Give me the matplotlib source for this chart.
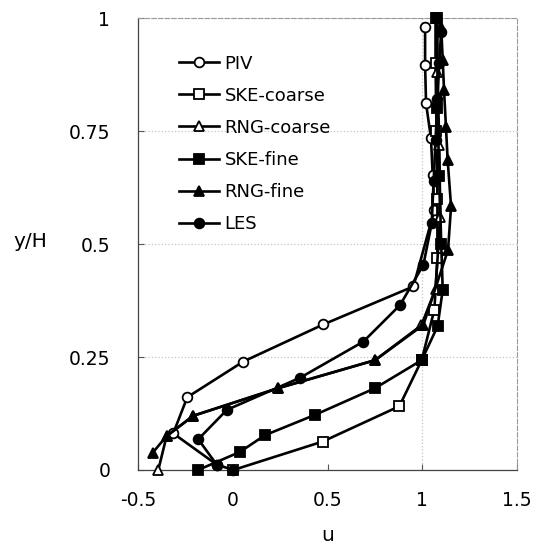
import matplotlib
matplotlib.use("Agg")
import matplotlib.pyplot as plt

# velocity profiles (u) vs height (y/H)
piv_y = [0.012, 0.081, 0.161, 0.240, 0.322, 0.406, 0.575, 0.653, 0.734, 0.811, 0.896, 0.981]
piv_u = [-0.085, -0.314, -0.240, 0.056, 0.478, 0.953, 1.064, 1.055, 1.046, 1.020, 1.015, 1.015]

ske_coarse_y = [0.0, 0.063, 0.141, 0.243, 0.355, 0.47, 0.60, 0.75, 0.90, 1.0]
ske_coarse_u = [0.003, 0.475, 0.879, 0.997, 1.064, 1.08, 1.08, 1.075, 1.07, 1.07]

rng_coarse_y = [0.0, 0.075, 0.12, 0.181, 0.243, 0.32, 0.40, 0.56, 0.72, 0.88, 1.0]
rng_coarse_u = [-0.393, -0.349, -0.208, 0.24, 0.751, 0.995, 1.07, 1.095, 1.09, 1.08, 1.075]

ske_fine_y = [0.0, 0.040, 0.077, 0.122, 0.181, 0.243, 0.318, 0.399, 0.50, 0.65, 0.80, 1.0]
ske_fine_u = [-0.183, 0.038, 0.170, 0.434, 0.751, 0.997, 1.081, 1.108, 1.10, 1.09, 1.08, 1.08]

rng_fine_y = [0.038, 0.075, 0.12, 0.181, 0.243, 0.321, 0.487, 0.583, 0.686, 0.759, 0.84, 0.907, 0.98]
rng_fine_u = [-0.423, -0.349, -0.208, 0.24, 0.751, 1.006, 1.136, 1.152, 1.134, 1.125, 1.115, 1.108, 1.10]

les_y = [0.0, 0.012, 0.068, 0.133, 0.204, 0.284, 0.365, 0.454, 0.546, 0.64, 0.73, 0.82, 0.90, 0.968]
les_u = [0.003, -0.085, -0.182, -0.031, 0.355, 0.689, 0.883, 1.006, 1.050, 1.06, 1.07, 1.08, 1.09, 1.099]

series = [
    ("PIV", piv_u, piv_y, "o", "white"),
    ("SKE-coarse", ske_coarse_u, ske_coarse_y, "s", "white"),
    ("RNG-coarse", rng_coarse_u, rng_coarse_y, "^", "white"),
    ("SKE-fine", ske_fine_u, ske_fine_y, "s", "black"),
    ("RNG-fine", rng_fine_u, rng_fine_y, "^", "black"),
    ("LES", les_u, les_y, "o", "black"),
]

plt.rcParams['font.family'] = ['DejaVu Sans']

fig = plt.figure(figsize=(5.42, 5.46), dpi=100)
ax = fig.add_axes([0.2546, 0.1392, 0.6993, 0.8278])

for name, u, y, m, fc in series:
    ax.plot(u, y, color='black', lw=1.9, marker=m, markersize=7,
            markerfacecolor=fc, markeredgecolor='black', markeredgewidth=1.3,
            label=name, clip_on=False, zorder=3)

ax.set_xlim(-0.5, 1.5)
ax.set_ylim(0, 1)
ax.set_xticks([-0.5, 0, 0.5, 1, 1.5])
ax.set_xticklabels(["-0.5", "0", "0.5", "1", "1.5"])
ax.set_yticks([0, 0.25, 0.5, 0.75, 1])
ax.set_yticklabels(["0", "0.25", "0.5", "0.75", "1"])
ax.tick_params(direction='in', length=4, width=0.8, color='#555555',
               labelsize=13.5, pad=20)
ax.tick_params(axis='x', pad=15)

ax.yaxis.grid(True, color='#c4c4c4', linestyle=':', lw=0.9)
ax.axvline(1, color='#c4c4c4', linestyle=':', lw=0.9, zorder=1)

for side in ['left', 'bottom']:
    ax.spines[side].set_color('#444444')
    ax.spines[side].set_linewidth(0.9)
for side in ['top', 'right']:
    ax.spines[side].set_color('#999999')
    ax.spines[side].set_linewidth(0.8)
    ax.spines[side].set_linestyle((0, (4, 2)))

ax.set_xlabel("u", fontsize=14.5, labelpad=12)
ax.set_ylabel("y/H", fontsize=14.5, rotation=0)
ax.yaxis.set_label_coords(-0.285, 0.485)

ax.legend(loc='upper left', bbox_to_anchor=(0.09, 0.935), frameon=False,
          fontsize=13, handlelength=2.2, handletextpad=0.3, labelspacing=0.78,
          borderaxespad=0)

fig.savefig("out.png", dpi=100)
